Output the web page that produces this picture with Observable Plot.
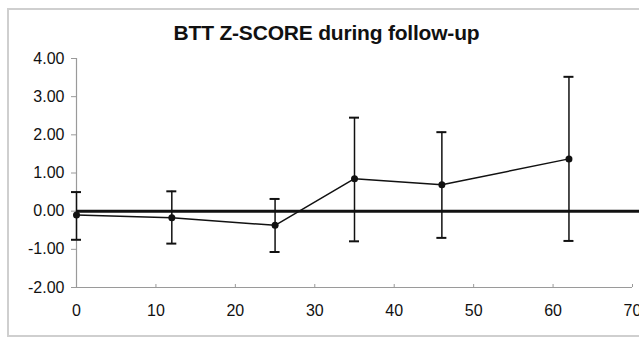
<!DOCTYPE html>
<html>
<head>
<meta charset="utf-8">
<script src="https://cdn.jsdelivr.net/npm/d3@7"></script>
<script src="https://cdn.jsdelivr.net/npm/@observablehq/plot@0.6"></script>
<style>
  html, body { margin: 0; padding: 0; background: #fff; overflow: hidden; }
  #wrap { position: relative; width: 639px; height: 341px; }
  #frame { position: absolute; left: 7px; top: 8px; width: 700px; height: 329px; border: 2px solid #cfcfcf; box-sizing: border-box; }
  #title { position: absolute; left: 0; width: 653px; top: 21px; text-align: center; font: bold 21px "Liberation Sans", Arial, sans-serif; color: #111; letter-spacing: -0.2px; }
  #chart { position: absolute; left: 0; top: 0; }
</style>
</head>
<body>
<div id="wrap">
  <div id="frame"></div>
  <div id="chart"></div>
  <div id="title">BTT Z-SCORE during follow-up</div>
</div>
<script>
const months = [0, 12, 25, 35, 46, 62];
const meanZ = [-0.10, -0.17, -0.37, 0.85, 0.69, 1.37];
const upperZ = [0.50, 0.52, 0.32, 2.45, 2.07, 3.52];
const lowerZ = [-0.75, -0.85, -1.07, -0.79, -0.70, -0.78];
const xTicks = [0, 10, 20, 30, 40, 50, 60, 70];
const yTicks = [-2, -1, 0, 1, 2, 3, 4];

const data = months.map((m, i) => ({x: m, y: meanZ[i], hi: upperZ[i], lo: lowerZ[i]}));

const plot = Plot.plot({
  width: 639,
  height: 341,
  marginLeft: 76,
  marginRight: 7,
  marginTop: 58,
  marginBottom: 54,
  style: {background: "transparent", fontFamily: "'Liberation Sans', Arial, sans-serif"},
  x: {domain: [0, 70], ticks: xTicks},
  y: {domain: [-2, 4], ticks: yTicks},
  marks: [
    Plot.ruleX([0], {stroke: "#9a9a9a", strokeWidth: 1.2}),
    Plot.ruleY([-2], {stroke: "#9a9a9a", strokeWidth: 1.2}),
    Plot.ruleX(xTicks.slice(1), {y1: -2, y2: -2, insetTop: -3, stroke: "#9a9a9a", strokeWidth: 1}),
    Plot.axisY({ticks: yTicks, tickFormat: d => d.toFixed(2), tickSize: 5, tickPadding: 7, fontSize: 16, stroke: "#9a9a9a", fill: "#111", label: null}),
    Plot.axisX({ticks: xTicks, tickFormat: d => String(d), tickSize: 0, tickPadding: 17, fontSize: 16, fill: "#111", label: null}),
    Plot.ruleY([0], {stroke: "#111", strokeWidth: 3, insetRight: -10}),
    Plot.ruleX(data, {x: "x", y1: "lo", y2: "hi", stroke: "#111", strokeWidth: 1.5}),
    Plot.ruleY(data, {y: "hi", x1: "x", x2: "x", insetLeft: -5, insetRight: -5, stroke: "#111", strokeWidth: 2}),
    Plot.ruleY(data, {y: "lo", x1: "x", x2: "x", insetLeft: -5, insetRight: -5, stroke: "#111", strokeWidth: 2}),
    Plot.line(data, {x: "x", y: "y", stroke: "#111", strokeWidth: 1.5}),
    Plot.dot(data, {x: "x", y: "y", r: 3.5, fill: "#111", stroke: "none"})
  ]
});
document.getElementById("chart").appendChild(plot);
</script>
</body>
</html>
